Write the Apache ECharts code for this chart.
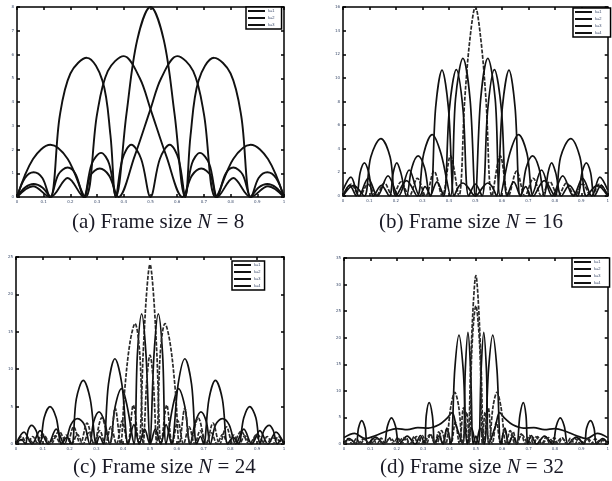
<!DOCTYPE html>
<html>
<head>
<meta charset="utf-8">
<script src="https://cdn.jsdelivr.net/npm/echarts@6/dist/echarts.min.js"></script>
<style>
  html, body { margin: 0; padding: 0; background: #fff; }
  #chart { width: 612px; height: 481px; }
</style>
</head>
<body>
<div id="chart"></div>
<script>
// 图 (a) N = 8
const a1 = [[0,0],[0.03,0.8],[0.0625,1.04],[0.095,0.8],[0.125,0],[0.155,0.95],[0.19,1.24],[0.22,0.95],[0.25,0],[0.28,1.4],[0.315,1.86],[0.345,1.4],[0.37,0],[0.41,3.5],[0.45,6.6],[0.5,8],[0.55,6.6],[0.59,3.5],[0.63,0],[0.655,1.4],[0.685,1.86],[0.72,1.4],[0.75,0],[0.78,0.95],[0.81,1.24],[0.845,0.95],[0.875,0],[0.905,0.8],[0.9375,1.04],[0.97,0.8],[1,0]];
const a2 = [[0,0],[0.03,0.4],[0.0625,0.55],[0.095,0.4],[0.125,0],[0.16,3.4],[0.2,5.2],[0.262,5.86],[0.32,4.9],[0.35,2.6],[0.37,0],[0.395,1.6],[0.428,2.2],[0.465,1.6],[0.5,0],[0.535,1.6],[0.572,2.2],[0.605,1.6],[0.63,0],[0.65,2.6],[0.68,4.9],[0.738,5.86],[0.8,5.2],[0.84,3.4],[0.875,0],[0.905,0.4],[0.9375,0.55],[0.97,0.4],[1,0]];
const a3 = [[0,0],[0.06,1.6],[0.125,2.2],[0.19,1.6],[0.256,0],[0.3,3.5],[0.34,5.3],[0.4,5.93],[0.46,5.0],[0.5,3.7],[0.56,1.7],[0.62,0],[0.655,0.9],[0.69,1.2],[0.725,0.9],[0.75,0],[0.81,0.8],[0.875,0],[0.94,0.45],[1,0]];
const a4 = [[0,0],[0.06,0.45],[0.125,0],[0.19,0.8],[0.25,0],[0.275,0.9],[0.31,1.2],[0.345,0.9],[0.38,0],[0.44,1.7],[0.5,3.7],[0.54,5.0],[0.6,5.93],[0.66,5.3],[0.7,3.5],[0.744,0],[0.81,1.6],[0.875,2.2],[0.94,1.6],[1,0]];

// 图 (b) N = 16
const b1 = [[0,0],[0.031,1.0],[0.0625,0],[0.094,1.0],[0.125,0],[0.156,1.1],[0.1875,0],[0.219,1.2],[0.25,0],[0.281,1.5],[0.3125,0],[0.344,2.1],[0.375,0],[0.406,3.4],[0.4375,0],[0.46,8.2],[0.48,13.4],[0.5,16],[0.52,13.4],[0.54,8.2],[0.5625,0],[0.594,3.4],[0.625,0],[0.656,2.1],[0.6875,0],[0.719,1.5],[0.75,0],[0.781,1.2],[0.8125,0],[0.844,1.1],[0.875,0],[0.906,1.0],[0.9375,0],[0.969,1.0],[1,0]];
const b2 = [[0,0],[0.04,0.9],[0.08,0],[0.105,3.3],[0.143,4.86],[0.178,3.3],[0.2,0],[0.24,1.3],[0.28,0],[0.305,3.6],[0.337,5.2],[0.37,3.6],[0.406,0],[0.425,8.2],[0.453,11.66],[0.48,8.2],[0.5,0],[0.52,8.2],[0.547,11.66],[0.575,8.2],[0.594,0],[0.63,3.6],[0.663,5.2],[0.695,3.6],[0.72,0],[0.76,1.3],[0.8,0],[0.822,3.3],[0.86,4.86],[0.895,3.3],[0.92,0],[0.96,0.9],[1,0]];
const b3 = [[0,0],[0.025,0.9],[0.05,0],[0.065,2.0],[0.081,2.8],[0.097,2.0],[0.115,0],[0.145,0.9],[0.175,0],[0.19,2.0],[0.203,2.8],[0.218,2.0],[0.24,0],[0.26,2.4],[0.284,3.4],[0.308,2.4],[0.33,0],[0.355,1.2],[0.38,0],[0.402,7.4],[0.428,10.7],[0.453,7.4],[0.475,0],[0.5,1.0],[0.525,0],[0.547,7.4],[0.572,10.7],[0.598,7.4],[0.62,0],[0.645,1.2],[0.67,0],[0.692,2.4],[0.716,3.4],[0.74,2.4],[0.76,0],[0.775,2.0],[0.788,2.8],[0.803,2.0],[0.825,0],[0.855,0.9],[0.885,0],[0.903,2.0],[0.919,2.8],[0.935,2.0],[0.95,0],[0.975,0.9],[1,0]];
const b4 = [[0,0.5],[0.03,1.6],[0.06,0],[0.095,1.5],[0.13,0],[0.17,1.7],[0.21,0],[0.25,2.2],[0.29,0],[0.31,0.8],[0.33,0],[0.35,7.5],[0.374,10.66],[0.398,7.5],[0.42,0],[0.437,0.8],[0.453,1.1],[0.47,0.8],[0.5,0],[0.53,0.8],[0.547,1.1],[0.563,0.8],[0.58,0],[0.602,7.5],[0.627,10.66],[0.65,7.5],[0.67,0],[0.69,0.8],[0.71,0],[0.75,2.2],[0.79,0],[0.83,1.7],[0.87,0],[0.905,1.5],[0.94,0],[0.97,1.6],[1,0.5]];

// 图 (c) N = 24
const c1 = [[0,0],[0.021,1.0],[0.042,0],[0.0625,1.0],[0.083,0],[0.104,1.05],[0.125,0],[0.146,1.1],[0.167,0],[0.1875,1.2],[0.208,0],[0.229,1.3],[0.25,0],[0.271,1.5],[0.292,0],[0.3125,1.8],[0.333,0],[0.354,2.3],[0.375,0],[0.396,3.1],[0.417,0],[0.4375,5.2],[0.458,0],[0.475,12.5],[0.488,20.5],[0.5,24],[0.512,20.5],[0.525,12.5],[0.542,0],[0.5625,5.2],[0.583,0],[0.604,3.1],[0.625,0],[0.646,2.3],[0.667,0],[0.6875,1.8],[0.708,0],[0.729,1.5],[0.75,0],[0.771,1.3],[0.792,0],[0.8125,1.2],[0.833,0],[0.854,1.1],[0.875,0],[0.896,1.05],[0.917,0],[0.9375,1.0],[0.958,0],[0.979,1.0],[1,0]];
const c2 = [[0,0],[0.03,1.6],[0.06,0],[0.09,1.8],[0.12,0],[0.15,2.0],[0.18,0],[0.205,2.6],[0.23,3.4],[0.255,2.6],[0.275,0],[0.29,3.0],[0.31,4.3],[0.33,3.0],[0.35,0],[0.37,5.0],[0.394,7.4],[0.415,5.0],[0.44,0],[0.453,12],[0.469,17.4],[0.485,12],[0.5,0],[0.515,12],[0.531,17.4],[0.547,12],[0.56,0],[0.585,5.0],[0.606,7.4],[0.63,5.0],[0.65,0],[0.67,3.0],[0.69,4.3],[0.71,3.0],[0.725,0],[0.745,2.6],[0.77,3.4],[0.795,2.6],[0.82,0],[0.85,2.0],[0.88,0],[0.91,1.8],[0.94,0],[0.97,1.6],[1,0]];
const c3 = [[0,0],[0.04,0.8],[0.07,0],[0.1,1.3],[0.13,0],[0.16,1.7],[0.19,0],[0.215,2.3],[0.24,0],[0.265,2.8],[0.29,0],[0.32,3.5],[0.35,0],[0.37,4.8],[0.39,0],[0.405,7],[0.425,13.5],[0.444,16.1],[0.462,12],[0.475,0],[0.488,8.5],[0.5,11.9],[0.512,8.5],[0.525,0],[0.538,12],[0.556,16.1],[0.575,13.5],[0.595,7],[0.61,0],[0.63,4.8],[0.65,0],[0.68,3.5],[0.71,0],[0.735,2.8],[0.76,0],[0.785,2.3],[0.81,0],[0.84,1.7],[0.87,0],[0.9,1.3],[0.93,0],[0.96,0.8],[1,0]];
const c4 = [[0,0],[0.02,0.6],[0.035,0],[0.045,1.8],[0.058,2.5],[0.075,1.8],[0.09,0],[0.105,3.5],[0.127,5.0],[0.15,3.5],[0.17,0],[0.19,0.9],[0.208,0],[0.225,6],[0.251,8.5],[0.277,6],[0.3,0],[0.312,1.0],[0.326,0],[0.345,8],[0.369,11.4],[0.395,8],[0.419,0],[0.44,2.6],[0.46,0],[0.48,2.0],[0.5,0],[0.52,2.0],[0.54,0],[0.56,2.6],[0.58,0],[0.605,8],[0.63,11.4],[0.655,8],[0.674,0],[0.688,1.0],[0.7,0],[0.72,6],[0.744,8.5],[0.77,6],[0.79,0],[0.81,0.9],[0.83,0],[0.85,3.5],[0.872,5.0],[0.895,3.5],[0.91,0],[0.925,1.8],[0.945,2.5],[0.96,1.8],[0.975,0],[0.99,0.6],[1,0]];

// 图 (d) N = 32
const d1 = [[0,0],[0.016,1.0],[0.031,0],[0.047,1.0],[0.0625,0],[0.078,1.0],[0.094,0],[0.109,1.05],[0.125,0],[0.141,1.1],[0.156,0],[0.172,1.15],[0.1875,0],[0.203,1.2],[0.219,0],[0.234,1.3],[0.25,0],[0.266,1.4],[0.281,0],[0.297,1.6],[0.3125,0],[0.328,1.9],[0.344,0],[0.359,2.3],[0.375,0],[0.391,2.9],[0.406,0],[0.422,4.1],[0.4375,0],[0.453,6.8],[0.469,0],[0.481,16],[0.491,27],[0.5,31.7],[0.509,27],[0.519,16],[0.531,0],[0.547,6.8],[0.5625,0],[0.578,4.1],[0.594,0],[0.609,2.9],[0.625,0],[0.641,2.3],[0.656,0],[0.672,1.9],[0.6875,0],[0.703,1.6],[0.719,0],[0.734,1.4],[0.75,0],[0.766,1.3],[0.781,0],[0.797,1.2],[0.8125,0],[0.828,1.15],[0.844,0],[0.859,1.1],[0.875,0],[0.891,1.05],[0.906,0],[0.922,1.0],[0.9375,0],[0.953,1.0],[0.969,0],[0.984,1.0],[1,0]];
const d2 = [[0,0],[0.02,1.0],[0.045,0],[0.055,3.0],[0.067,4.4],[0.08,3.0],[0.09,0],[0.12,1.3],[0.15,0],[0.165,3.4],[0.18,4.9],[0.195,3.4],[0.21,0],[0.24,1.5],[0.27,0],[0.29,1.6],[0.305,0],[0.312,5.4],[0.323,7.8],[0.335,5.4],[0.345,0],[0.36,1.5],[0.375,0],[0.39,3],[0.405,0],[0.42,14],[0.436,20.5],[0.452,14],[0.468,0],[0.484,3],[0.5,0],[0.516,3],[0.532,0],[0.548,14],[0.564,20.5],[0.58,14],[0.595,0],[0.61,3],[0.625,0],[0.64,1.5],[0.655,0],[0.667,5.4],[0.68,7.8],[0.69,5.4],[0.697,0],[0.71,1.6],[0.73,0],[0.76,1.5],[0.79,0],[0.805,3.4],[0.82,4.9],[0.835,3.4],[0.85,0],[0.88,1.3],[0.91,0],[0.92,3.0],[0.935,4.4],[0.948,3.0],[0.958,0],[0.98,1.0],[1,0]];
const d3 = [[0,1.2],[0.04,2.0],[0.08,1.0],[0.12,1.6],[0.16,2.4],[0.2,2.9],[0.24,2.7],[0.28,3.1],[0.32,3.0],[0.36,3.6],[0.39,4.8],[0.41,5.9],[0.425,3.5],[0.45,0],[0.46,14],[0.47,21],[0.48,14],[0.49,0],[0.5,1.5],[0.51,0],[0.52,14],[0.53,21],[0.54,14],[0.55,0],[0.575,3.5],[0.59,5.9],[0.61,4.8],[0.64,3.6],[0.68,3.0],[0.72,3.1],[0.76,2.7],[0.8,2.9],[0.84,2.4],[0.88,1.6],[0.92,1.0],[0.96,2.0],[1,1.2]];
const d4 = [[0,0],[0.025,0.8],[0.05,0],[0.075,0.9],[0.1,0],[0.125,1.0],[0.15,0],[0.175,1.1],[0.2,0],[0.225,1.2],[0.25,0],[0.275,1.4],[0.3,0],[0.325,1.7],[0.35,0],[0.37,2.5],[0.385,0],[0.405,7],[0.42,9.7],[0.435,7],[0.45,0],[0.465,6],[0.475,0],[0.485,18],[0.5,26],[0.515,18],[0.525,0],[0.535,6],[0.55,0],[0.565,7],[0.58,9.7],[0.595,7],[0.615,0],[0.63,2.5],[0.65,0],[0.675,1.7],[0.7,0],[0.725,1.4],[0.75,0],[0.775,1.2],[0.8,0],[0.825,1.1],[0.85,0],[0.875,1.0],[0.9,0],[0.925,0.9],[0.95,0],[0.975,0.8],[1,0]];

// 图例文字和标题
const legendA = ['k=1', 'k=2', 'k=3'];
const legendB = ['k=1', 'k=2', 'k=3', 'k=4'];
const captions = ['(a) Frame size {i|N} = 8', '(b) Frame size {i|N} = 16', '(c) Frame size {i|N} = 24', '(d) Frame size {i|N} = 32'];
const yMax = [8, 16, 25, 35];
const yStep = [1, 2, 5, 5];

// 每个子图的曲线：[数据, 图例名, 是否虚线]
const panels = [
  [[a1, 'k=1', false], [a2, 'k=2', false], [a3, 'k=3', false], [a4, 'k=3', false]],
  [[b1, 'k=1', true], [b2, 'k=2', false], [b3, 'k=3', false], [b4, 'k=4', false]],
  [[c1, 'k=1', true], [c2, 'k=2', false], [c3, 'k=3', true], [c4, 'k=4', false]],
  [[d1, 'k=1', true], [d2, 'k=2', false], [d3, 'k=3', false], [d4, 'k=4', true]],
];

const grids = [
  { left: 17, top: 7, width: 267, height: 190 },
  { left: 343, top: 7, width: 267, height: 189 },
  { left: 16, top: 257, width: 268, height: 187 },
  { left: 344, top: 258, width: 265, height: 186 },
];
const legendPos = [[246, 7, 7], [573, 8, 9], [232, 261, 4], [572, 258, 9]];
const captionPos = [[72, 212], [379, 212], [73, 457], [380, 457]];

const chart = echarts.init(document.getElementById('chart'));

const labelStyle = { fontSize: 4, color: '#3a4a6a', margin: 3, fontFamily: 'DejaVu Sans' };
const frameLine = { show: true, onZero: false, lineStyle: { color: '#000', width: 1.5 } };
const tick = { show: true, inside: true, length: 3, lineStyle: { color: '#000', width: 1.5 } };

const xAxis = [], yAxis = [], series = [];
grids.forEach((g, i) => {
  xAxis.push({ gridIndex: i, type: 'value', min: 0, max: 1, interval: 0.1, position: 'bottom',
    axisLine: frameLine, axisTick: tick, axisLabel: labelStyle, splitLine: { show: false } });
  xAxis.push({ gridIndex: i, type: 'value', min: 0, max: 1, interval: 0.1, position: 'top',
    axisLine: frameLine, axisTick: tick, axisLabel: { show: false }, splitLine: { show: false } });
  yAxis.push({ gridIndex: i, type: 'value', min: 0, max: yMax[i], interval: yStep[i], position: 'left',
    axisLine: frameLine, axisTick: tick, axisLabel: labelStyle, splitLine: { show: false } });
  yAxis.push({ gridIndex: i, type: 'value', min: 0, max: yMax[i], interval: yStep[i], position: 'right',
    axisLine: frameLine, axisTick: tick, axisLabel: { show: false }, splitLine: { show: false } });

  panels[i].forEach(([data, name, dashed]) => {
    const col = dashed ? '#2a2a2a' : '#111';
    series.push({
      name: name,
      type: 'line',
      xAxisIndex: i * 2,
      yAxisIndex: i * 2,
      data: data,
      smooth: 0.35,
      showSymbol: false,
      silent: true,
      color: '#111',
      lineStyle: { color: col, width: i === 0 ? 1.9 : 1.7, type: dashed ? [4, 1.5] : 'solid' },
    });
  });
});

const option = {
  animation: false,
  backgroundColor: '#fff',
  grid: grids.map(g => Object.assign({ show: false, containLabel: false }, g)),
  xAxis: xAxis,
  yAxis: yAxis,
  legend: legendPos.map((p, i) => ({
    left: p[0], top: p[1], orient: 'vertical',
    data: i === 0 ? legendA : legendB,
    icon: 'rect', itemWidth: 17, itemHeight: 2, itemGap: 3,
    padding: [2, p[2], 2, 2],
    backgroundColor: '#fff', borderColor: '#000', borderWidth: 1.5,
    itemStyle: { color: '#111' },
    textStyle: { fontSize: 4, color: '#3a4a6a', padding: [0, 0, 0, -2] },
    selectedMode: false,
  })),
  title: captions.map((t, i) => ({
    text: t, left: captionPos[i][0], top: captionPos[i][1], padding: 0,
    textStyle: {
      fontFamily: 'Liberation Serif', fontSize: 21, fontWeight: 'normal', color: '#1a1a26',
      rich: { i: { fontFamily: 'Liberation Serif', fontSize: 21, fontStyle: 'italic', color: '#1a1a26' } },
    },
  })),
  series: series,
};

chart.setOption(option);
</script>
</body>
</html>
